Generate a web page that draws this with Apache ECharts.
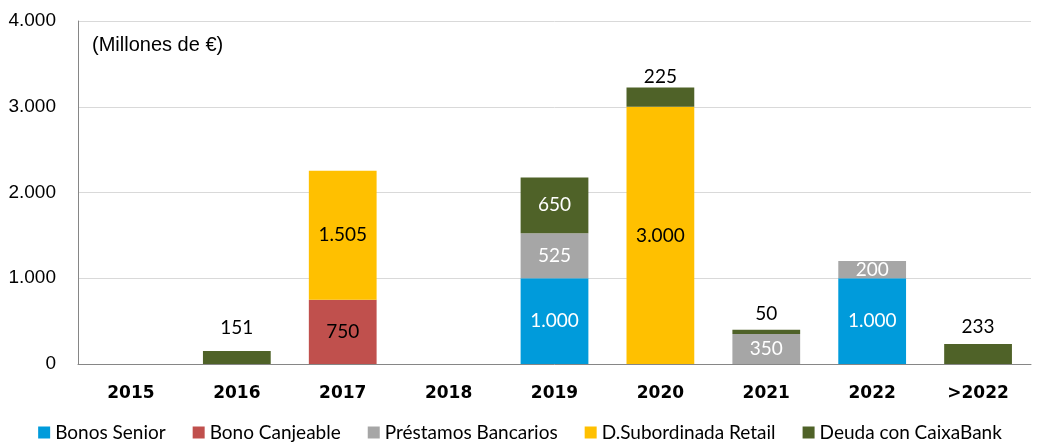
<!DOCTYPE html>
<html>
<head>
<meta charset="utf-8">
<script src="https://cdn.jsdelivr.net/npm/echarts@6/dist/echarts.min.js"></script>
<style>
  html, body { margin: 0; padding: 0; background: #fff; }
  #chart { width: 1040px; height: 446px; }
</style>
</head>
<body>
<div id="chart"></div>
<script>
const years = ['2015', '2016', '2017', '2018', '2019', '2020', '2021', '2022', '>2022'];

const bonosSenior = [null, null, null, null, 1000, null, null, 1000, null];
const bonoCanjeable = [null, null, 750, null, null, null, null, null, null];
const prestamos = [null, null, null, null, 525, null, 350, 200, null];
const subordinada = [null, null, 1505, null, null, 3000, null, null, null];
const deudaCaixa = [null, 151, null, null, 650, 225, 50, null, 233];

// CaixaBank labels that sit above the bar (thin segments), with their gap
const deudaLabelGap = [null, 14, null, null, null, 1, 6, null, 8];

const fmt = v => {
  return String(Math.round(v)).replace(/\B(?=(\d{3})+(?!\d))/g, '.');
};

const labelFont = 'Lato, "Open Sans", sans-serif';
const axisFont = '"Liberation Sans", Arial, sans-serif';

const makeSeries = (name, data, color, labelColor) => {
  return {
    name,
    type: 'bar',
    stack: 'total',
    barWidth: '64%',
    data,
    itemStyle: { color },
    label: {
      show: true,
      position: 'inside',
      color: labelColor,
      fontFamily: labelFont,
      fontSize: 19,
      formatter: p => fmt(p.value)
    }
  };
};

const chart = echarts.init(document.getElementById('chart'));

let series = [
  makeSeries('Bonos Senior', bonosSenior, '#009BDB', '#ffffff'),
  makeSeries('Bono Canjeable', bonoCanjeable, '#C0504D', '#000000'),
  makeSeries('Préstamos Bancarios', prestamos, '#A6A6A6', '#ffffff'),
  makeSeries('D.Subordinada Retail', subordinada, '#FFC000', '#000000'),
  makeSeries('Deuda con CaixaBank', deudaCaixa.map((v, i) => {
    if (v == null) return null;
    if (deudaLabelGap[i] == null) return v;
    return {
      value: v,
      label: { position: 'top', color: '#000000', distance: deudaLabelGap[i] }
    };
  }), '#4F6228', '#ffffff')
];

chart.setOption({
  animation: false,
  textStyle: { fontFamily: axisFont },
  grid: { left: 78, right: 9, top: 21, bottom: 82 },
  graphic: [{
    type: 'text',
    left: 92,
    top: 35,
    style: {
      text: '(Millones de €)',
      fill: '#000',
      fontSize: 20,
      fontFamily: axisFont
    }
  }],
  legend: {
    bottom: -1,
    left: 'center',
    itemWidth: 12,
    itemHeight: 12,
    itemGap: 27,
    icon: 'rect',
    textStyle: { fontFamily: labelFont, fontSize: 19, color: '#000' },
    data: series.map(s => s.name)
  },
  xAxis: {
    type: 'category',
    data: years,
    axisLine: { lineStyle: { color: '#868686', width: 1 } },
    axisTick: { show: false },
    axisLabel: {
      color: '#000',
      fontWeight: 'bold',
      fontSize: 17,
      margin: 21,
      fontFamily: '"DejaVu Sans", Verdana, sans-serif'
    }
  },
  yAxis: {
    type: 'value',
    min: 0,
    max: 4000,
    interval: 1000,
    axisLine: { show: true, lineStyle: { color: '#868686', width: 1 } },
    axisTick: { show: false },
    splitLine: { lineStyle: { color: '#D9D9D9', width: 1 } },
    axisLabel: {
      color: '#000',
      fontSize: 19,
      margin: 22,
      formatter: v => fmt(v)
    }
  },
  series
});
</script>
</body>
</html>
